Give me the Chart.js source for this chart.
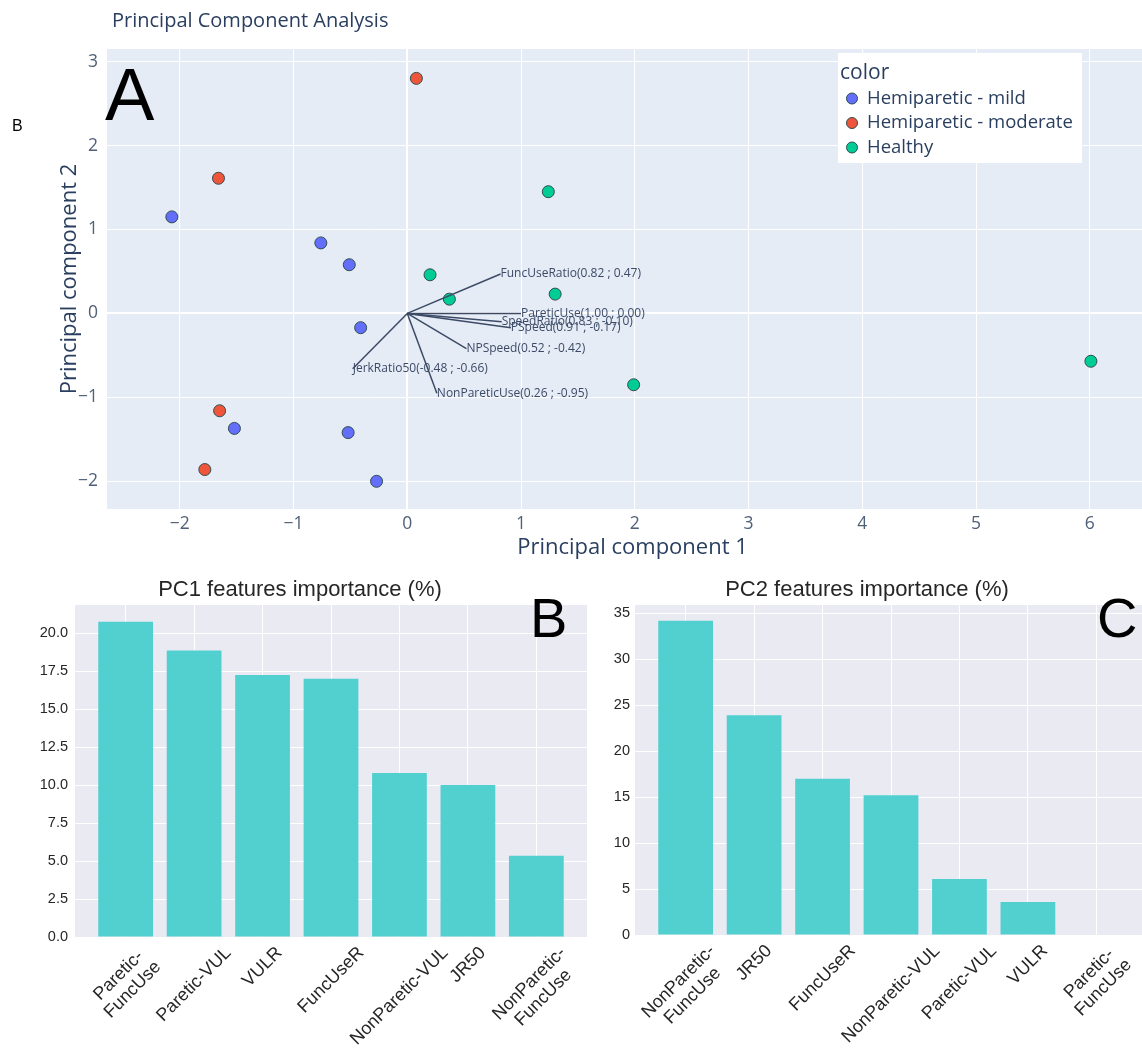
<!DOCTYPE html>
<html>
<head>
<meta charset="utf-8">
<script src="https://cdn.jsdelivr.net/npm/chart.js@4.4.1/dist/chart.umd.min.js"></script>
<style>
  html, body { margin: 0; padding: 0; background: #fff; overflow: hidden; }
  #wrap { position: relative; width: 1142px; height: 1061px; overflow: hidden; }
  canvas { position: absolute; }
</style>
</head>
<body>
<div id="wrap">
  <canvas id="pca" style="left:0;top:0"></canvas>
  <canvas id="pc1" style="left:0;top:560px"></canvas>
  <canvas id="pc2" style="left:590px;top:560px"></canvas>
</div>
<script>
// PCA scores per group
var mildX = [-2.07, -0.76, -0.51, -0.41, -1.52, -0.52, -0.27];
var mildY = [1.15, 0.84, 0.58, -0.17, -1.37, -1.42, -2.00];
var moderateX = [0.08, -1.66, -1.65, -1.78];
var moderateY = [2.80, 1.61, -1.16, -1.86];
var healthyX = [1.24, 0.20, 0.37, 1.30, 1.99, 6.01];
var healthyY = [1.45, 0.46, 0.17, 0.23, -0.85, -0.57];

// loading vectors
var loadNames = ["FuncUseRatio", "PareticUse", "SpeedRatio", "PSpeed", "NPSpeed", "JerkRatio50", "NonPareticUse"];
var loadX = [0.82, 1.00, 0.83, 0.91, 0.52, -0.48, 0.26];
var loadY = [0.47, 0.00, -0.10, -0.17, -0.42, -0.66, -0.95];

// feature importance
var pc1Labels = [["Paretic-", "FuncUse"], "Paretic-VUL", "VULR", "FuncUseR", "NonParetic-VUL", "JR50", ["NonParetic-", "FuncUse"]];
var pc1Values = [20.75, 18.85, 17.25, 17.0, 10.8, 10.0, 5.35];
var pc2Labels = [["NonParetic-", "FuncUse"], "JR50", "FuncUseR", "NonParetic-VUL", "Paretic-VUL", "VULR", ["Paretic-", "FuncUse"]];
var pc2Values = [34.2, 23.9, 17.0, 15.2, 6.1, 3.6, 0.0];

var plotlyFont = "'Open Sans', 'DejaVu Sans', sans-serif";
var mplFont = "'Liberation Sans', Arial, sans-serif";
var ink = "#2a3f5f";

function pts(xs, ys) {
  return xs.map(function (x, i) { return { x: x, y: ys[i] }; });
}

// fill the plot area
var plotBg = {
  id: 'plotBg',
  beforeDraw: function (chart, args, opts) {
    var a = chart.chartArea, ctx = chart.ctx;
    ctx.save();
    ctx.fillStyle = opts.color;
    ctx.fillRect(a.left, a.top, a.right - a.left, a.bottom - a.top);
    ctx.restore();
  }
};

// free texts drawn on top
var texts = {
  id: 'texts',
  afterDraw: function (chart, args, opts) {
    var ctx = chart.ctx;
    (opts.items || []).forEach(function (t) {
      ctx.save();
      ctx.font = t.font;
      ctx.fillStyle = t.color;
      ctx.textAlign = t.align || 'left';
      ctx.textBaseline = t.baseline || 'alphabetic';
      ctx.fillText(t.text, t.x, t.y);
      ctx.restore();
    });
  }
};

// ---------- PCA biplot ----------
// the original figure is cropped on the right, so the canvas is a bit wider than the page
var pcaCanvas = document.getElementById('pca');
pcaCanvas.width = 1158; pcaCanvas.height = 560;

var vectorSets = loadNames.map(function (n, i) {
  return {
    label: n,
    data: [{ x: 0, y: 0 }, { x: loadX[i], y: loadY[i] }],
    showLine: true,
    borderColor: '#3c4a66',
    borderWidth: 1.5,
    pointRadius: 0,
    order: 0
  };
});

var groups = [
  { label: 'Hemiparetic - mild', x: mildX, y: mildY, color: '#636efa' },
  { label: 'Hemiparetic - moderate', x: moderateX, y: moderateY, color: '#ef553b' },
  { label: 'Healthy', x: healthyX, y: healthyY, color: '#00cc96' }
];

var groupSets = groups.map(function (g) {
  return {
    label: g.label,
    data: pts(g.x, g.y),
    backgroundColor: g.color,
    borderColor: '#2f4f4f',
    borderWidth: 1,
    pointRadius: 6,
    order: 1
  };
});

var vectorLabels = {
  id: 'vectorLabels',
  afterDatasetsDraw: function (chart) {
    var ctx = chart.ctx, sx = chart.scales.x, sy = chart.scales.y;
    ctx.save();
    ctx.font = "12px " + plotlyFont;
    ctx.fillStyle = '#3c4a66';
    ctx.textAlign = 'left';
    ctx.textBaseline = 'middle';
    loadNames.forEach(function (n, i) {
      var txt = n + '(' + loadX[i].toFixed(2) + ' ; ' + loadY[i].toFixed(2) + ')';
      ctx.fillText(txt, sx.getPixelForValue(loadX[i]), sy.getPixelForValue(loadY[i]));
    });
    ctx.restore();
  }
};

var pcaLegend = {
  id: 'pcaLegend',
  afterDraw: function (chart) {
    var ctx = chart.ctx;
    ctx.save();
    ctx.fillStyle = '#ffffff';
    ctx.fillRect(838, 53, 244, 110);
    ctx.fillStyle = ink;
    ctx.textBaseline = 'middle';
    ctx.font = "21px " + plotlyFont;
    ctx.fillText('color', 840, 73);
    ctx.font = "18.5px " + plotlyFont;
    groups.forEach(function (g, i) {
      var y = 98.5 + i * 24.5;
      ctx.beginPath();
      ctx.arc(852, y, 5.5, 0, Math.PI * 2);
      ctx.fillStyle = g.color;
      ctx.fill();
      ctx.lineWidth = 1;
      ctx.strokeStyle = '#2f4f4f';
      ctx.stroke();
      ctx.fillStyle = ink;
      ctx.fillText(g.label, 867, y);
    });
    ctx.restore();
  }
};

function minusSign(v) {
  return String(v).replace('-', '\u2212');
}

new Chart(pcaCanvas, {
  type: 'scatter',
  data: { datasets: vectorSets.concat(groupSets) },
  options: {
    responsive: false,
    animation: false,
    layout: { autoPadding: false, padding: { top: 49, right: 0, bottom: 0, left: 0 } },
    plugins: {
      legend: { display: false },
      tooltip: { enabled: false },
      plotBg: { color: '#e5ecf6' },
      texts: {
        items: [
          { text: 'Principal Component Analysis', x: 112, y: 27, font: "20px " + plotlyFont, color: ink },
          { text: 'A', x: 105, y: 120, font: "74px " + mplFont, color: '#000' },
          { text: 'B', x: 12, y: 131, font: "16px " + mplFont, color: '#000' }
        ]
      }
    },
    scales: {
      x: {
        type: 'linear',
        min: -2.64, max: 6.60,
        afterFit: function (s) { s.height = 51; },
        border: { display: false },
        grid: {
          color: '#ffffff',
          lineWidth: function (c) { return c.tick && c.tick.value === 0 ? 2 : 1; },
          drawTicks: false
        },
        ticks: {
          stepSize: 1, includeBounds: false, padding: 5,
          color: '#506078', font: { family: plotlyFont, size: 17.5 },
          callback: minusSign
        },
        title: {
          display: true, text: 'Principal component 1',
          color: ink, font: { family: plotlyFont, size: 22 },
          padding: { top: 0, bottom: -1 }
        }
      },
      y: {
        type: 'linear',
        min: -2.33, max: 3.15,
        afterFit: function (s) { s.width = 107; },
        border: { display: false },
        grid: {
          color: '#ffffff',
          lineWidth: function (c) { return c.tick && c.tick.value === 0 ? 2 : 1; },
          drawTicks: false
        },
        ticks: {
          stepSize: 1, includeBounds: false, padding: 9,
          color: '#506078', font: { family: plotlyFont, size: 17.5 },
          callback: minusSign
        },
        title: {
          display: true, text: 'Principal component 2',
          color: ink, font: { family: plotlyFont, size: 22 },
          padding: { top: 57, bottom: 0 }
        }
      }
    }
  },
  plugins: [plotBg, vectorLabels, pcaLegend, texts]
});

// ---------- feature importance bars ----------
var rotatedLabels = {
  id: 'rotatedLabels',
  afterDraw: function (chart, args, opts) {
    var ctx = chart.ctx, sx = chart.scales.x;
    var lh = opts.lineHeight;
    ctx.font = opts.font;
    opts.labels.forEach(function (lab, i) {
      var lines = Array.isArray(lab) ? lab : [lab];
      var w = Math.max.apply(null, lines.map(function (l) { return ctx.measureText(l).width; }));
      var h = lines.length * lh;
      var half = (w + h) * Math.SQRT1_2 / 2;
      ctx.save();
      ctx.font = opts.font;
      ctx.fillStyle = opts.color;
      ctx.textAlign = 'center';
      ctx.textBaseline = 'middle';
      ctx.translate(sx.getPixelForValue(i), chart.chartArea.bottom + opts.pad + half);
      ctx.rotate(-Math.PI / 4);
      lines.forEach(function (l, k) {
        ctx.fillText(l, 0, (k - (lines.length - 1) / 2) * lh);
      });
      ctx.restore();
    });
  }
};

function barChart(id, width, labels, values, yMax, step, decimals, leftW, bottomH, tickPad, title, titleX, letter, letterX) {
  var cv = document.getElementById(id);
  cv.width = width; cv.height = 501;
  return new Chart(cv, {
    type: 'bar',
    data: {
      datasets: [{
        data: values.map(function (v, i) { return { x: i, y: v }; }),
        backgroundColor: '#52d0cf',
        barPercentage: 0.8,
        categoryPercentage: 1.0
      }]
    },
    options: {
      responsive: false,
      animation: false,
      layout: { autoPadding: false, padding: { top: 45, right: 3, bottom: 0, left: 0 } },
      plugins: {
        legend: { display: false },
        tooltip: { enabled: false },
        plotBg: { color: '#eaeaf2' },
        rotatedLabels: { labels: labels, font: "18px " + mplFont, color: '#262626', lineHeight: 20, pad: 6 },
        texts: {
          items: [
            { text: title, x: titleX, y: 30, font: "22px " + mplFont, color: '#262626', align: 'center', baseline: 'middle' },
            { text: letter, x: letterX, y: 77, font: "56px " + mplFont, color: '#000' }
          ]
        }
      },
      scales: {
        x: {
          type: 'linear',
          offset: false,
          min: -0.74, max: 6.74,
          afterFit: function (s) { s.height = bottomH; },
          border: { display: false },
          grid: { color: '#ffffff', lineWidth: 1, drawTicks: false, offset: false },
          ticks: { display: false, stepSize: 1, includeBounds: false }
        },
        y: {
          type: 'linear',
          min: 0, max: yMax,
          afterFit: function (s) { s.width = leftW; },
          border: { display: false },
          grid: { color: '#ffffff', lineWidth: 1, drawTicks: false },
          ticks: {
            stepSize: step, includeBounds: false, padding: tickPad,
            color: '#262626', font: { family: mplFont, size: 14.5 },
            callback: function (v) { return Number(v).toFixed(decimals); }
          }
        }
      }
    },
    plugins: [plotBg, rotatedLabels, texts]
  });
}

barChart('pc1', 590, pc1Labels, pc1Values, 21.85, 2.5, 1, 75, 124, 7,
  'PC1 features importance (%)', 300, 'B', 530);
barChart('pc2', 560, pc2Labels, pc2Values, 35.9, 5, 0, 45, 126, 5,
  'PC2 features importance (%)', 277, 'C', 507);
</script>
</body>
</html>
